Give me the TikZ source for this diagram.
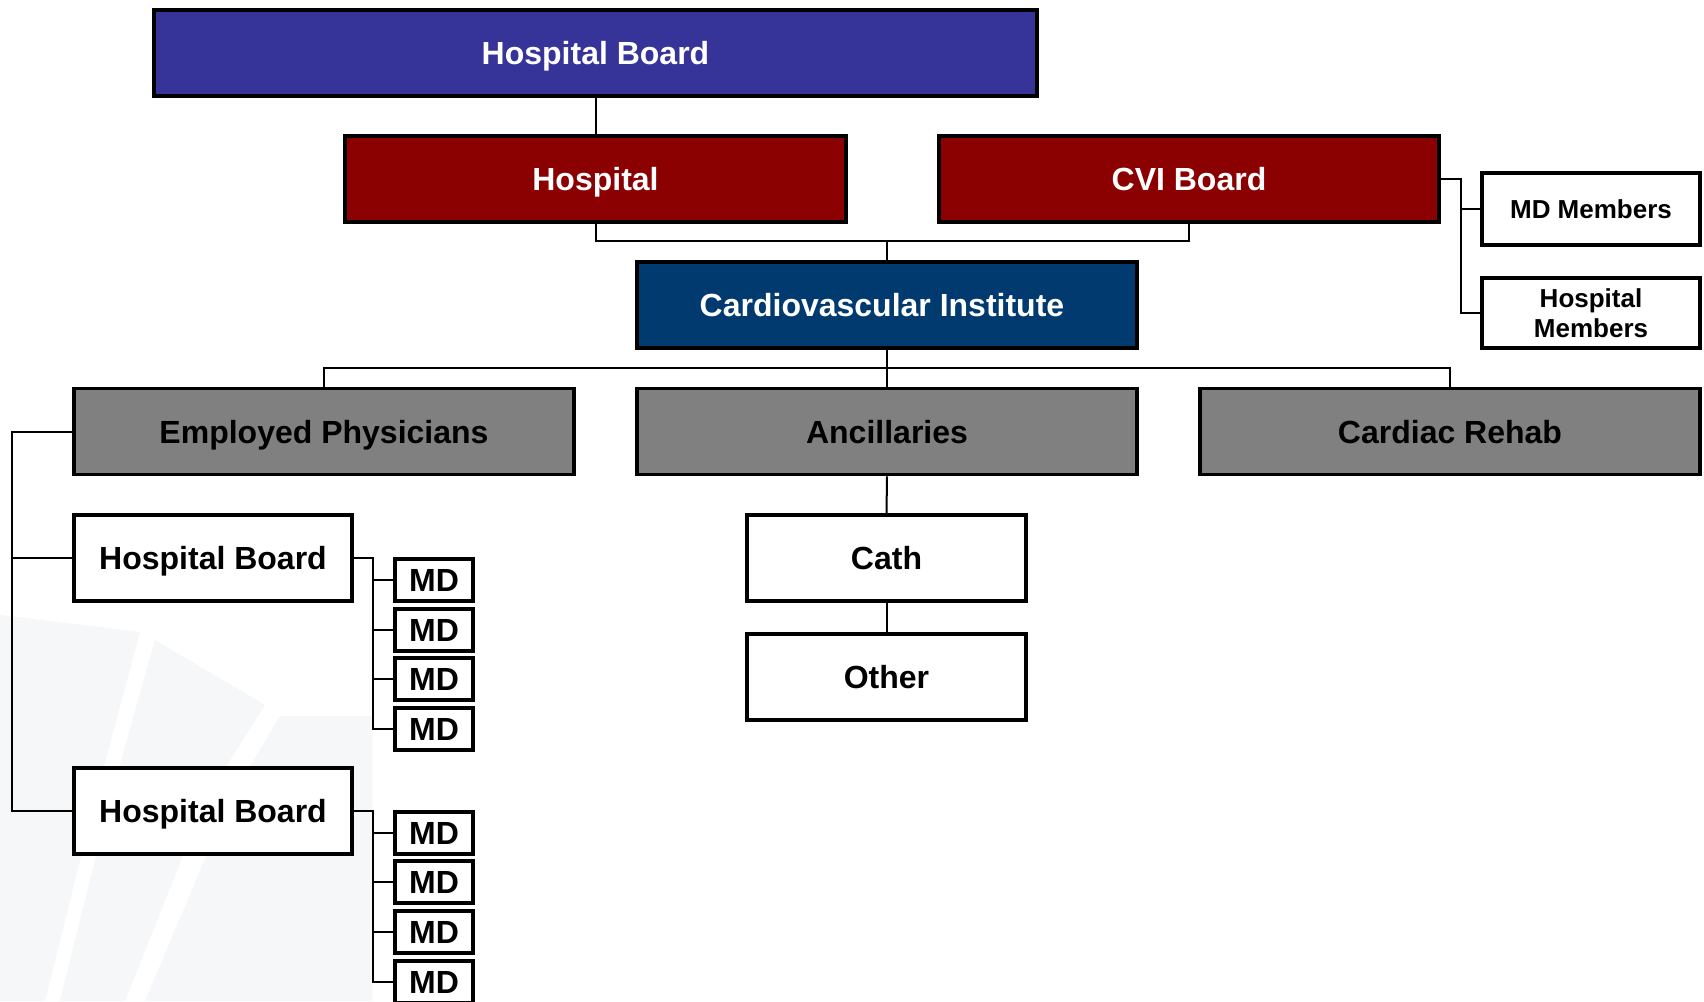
\documentclass[tikz,border=0pt]{standalone}
\usepackage{fontspec}
\setmainfont{Liberation Sans}
\definecolor{boardblue}{RGB}{54,51,153}
\definecolor{darkred}{RGB}{139,0,0}
\definecolor{navy}{RGB}{0,58,110}
\definecolor{midgray}{RGB}{128,128,128}
\definecolor{fanlight}{RGB}{246,247,249}
\tikzset{
  box/.style={draw=black, line width=3.5pt, inner sep=0pt, align=center,
              text height=23pt, text depth=0pt,
              font=\bfseries\fontsize{32}{36}\selectfont},
  bigbox/.style={box, minimum width=500pt, minimum height=86pt},
  whitebox/.style={box, fill=white, text=black},
  colbox/.style={bigbox, text=white},
  graybox/.style={bigbox, fill=midgray, text=black},
  memberbox/.style={box, fill=white, minimum width=218pt, text height=18.6pt,
              font=\bfseries\fontsize{26}{30}\selectfont},
  mdbox/.style={whitebox, line width=4pt, minimum width=78pt, minimum height=42pt},
  conn/.style={draw=black, line width=2pt},
}
\begin{document}
\begin{tikzpicture}[x=1pt, y=-1pt]
\useasboundingbox (0,0) rectangle (1704,1001);
\clip (0,0) rectangle (1704,1001);
\fill[white] (0,0) rectangle (1704,1001);
% faint background fan
\fill[fanlight] (0,615) -- (140,632) -- (95,800) -- (45,1001) -- (0,1001) -- cycle;
\fill[fanlight] (155,640) -- (265,705) -- (205,800) -- (125,1001) -- (60,1001) -- (110,800) -- cycle;
\fill[fanlight] (280,716) -- (372,716) -- (372,1001) -- (145,1001) -- (230,800) -- cycle;

% nodes
\node[colbox, fill=boardblue, minimum width=883pt] (topboard) at (595.5,53) {Hospital Board};
\node[colbox, fill=darkred, minimum width=501pt] (hosp) at (595.5,179) {Hospital};
\node[colbox, fill=darkred] (cvib) at (1189,179) {CVI Board};
\node[colbox, fill=navy] (cvi) at (887,305) {\hspace*{-10pt}Cardiovascular Institute};
\node[graybox] (emp) at (324,431.5) {Employed Physicians};
\node[graybox] (anc) at (887,431.5) {Ancillaries};
\node[graybox] (rehab) at (1450,431.5) {Cardiac Rehab};
\node[whitebox, minimum width=279pt, minimum height=86pt] (cath) at (886.5,558) {Cath};
\node[whitebox, minimum width=279pt, minimum height=86pt] (other) at (886.5,677) {Other};
\node[memberbox, minimum height=72pt] (mdm) at (1591,209) {MD Members};
\node[memberbox, minimum height=70pt, text height=, text depth=] (hmem) at (1591,313) {Hospital\\Members};
\node[whitebox, minimum width=278pt, minimum height=86pt] (hb1) at (213,558) {Hospital Board};
\node[whitebox, minimum width=278pt, minimum height=86pt] (hb2) at (213,811) {Hospital Board};
\node[mdbox] (mda1) at (434,580) {MD};
\node[mdbox] (mda2) at (434,629.5) {MD};
\node[mdbox] (mda3) at (434,679) {MD};
\node[mdbox] (mda4) at (434,728.5) {MD};
\node[mdbox] (mdb1) at (434,833) {MD};
\node[mdbox] (mdb2) at (434,882) {MD};
\node[mdbox] (mdb3) at (434,932) {MD};
\node[mdbox] (mdb4) at (434,981.5) {MD};

% junction coordinates
\coordinate (j1) at (887,241);
\coordinate (j2) at (887,368);
\coordinate (b1) at (1461,179);
\coordinate (e1) at (12,431.5);
\coordinate (k1) at (373,558);
\coordinate (k2) at (373,811);

% connectors
\begin{scope}[on background layer/.try]
\draw[conn] (topboard.south) -- (hosp.north);
\draw[conn] (hosp.south) |- (j1) -| (cvib.south);
\draw[conn] (j1) -- (cvi.north);
\draw[conn] (cvi.south) -- (anc.north);
\draw[conn] (emp.north) |- (j2) -| (rehab.north);
\draw[conn] (anc.south) -- (cath.north);
\draw[conn] (cath.south) -- (other.north);
\draw[conn] (cvib.east) -- (b1) |- (hmem.west);
\draw[conn] (b1) |- (mdm.west);
\draw[conn] (emp.west) -- (e1) |- (hb2.west);
\draw[conn] (hb1.west) -| (e1);
\draw[conn] (hb1.east) -- (k1) |- (mda4.west);
\draw[conn] (k1) |- (mda1.west);
\draw[conn] (k1) |- (mda2.west);
\draw[conn] (k1) |- (mda3.west);
\draw[conn] (hb2.east) -- (k2) |- (mdb4.west);
\draw[conn] (k2) |- (mdb1.west);
\draw[conn] (k2) |- (mdb2.west);
\draw[conn] (k2) |- (mdb3.west);
\end{scope}
\end{tikzpicture}
\end{document}
